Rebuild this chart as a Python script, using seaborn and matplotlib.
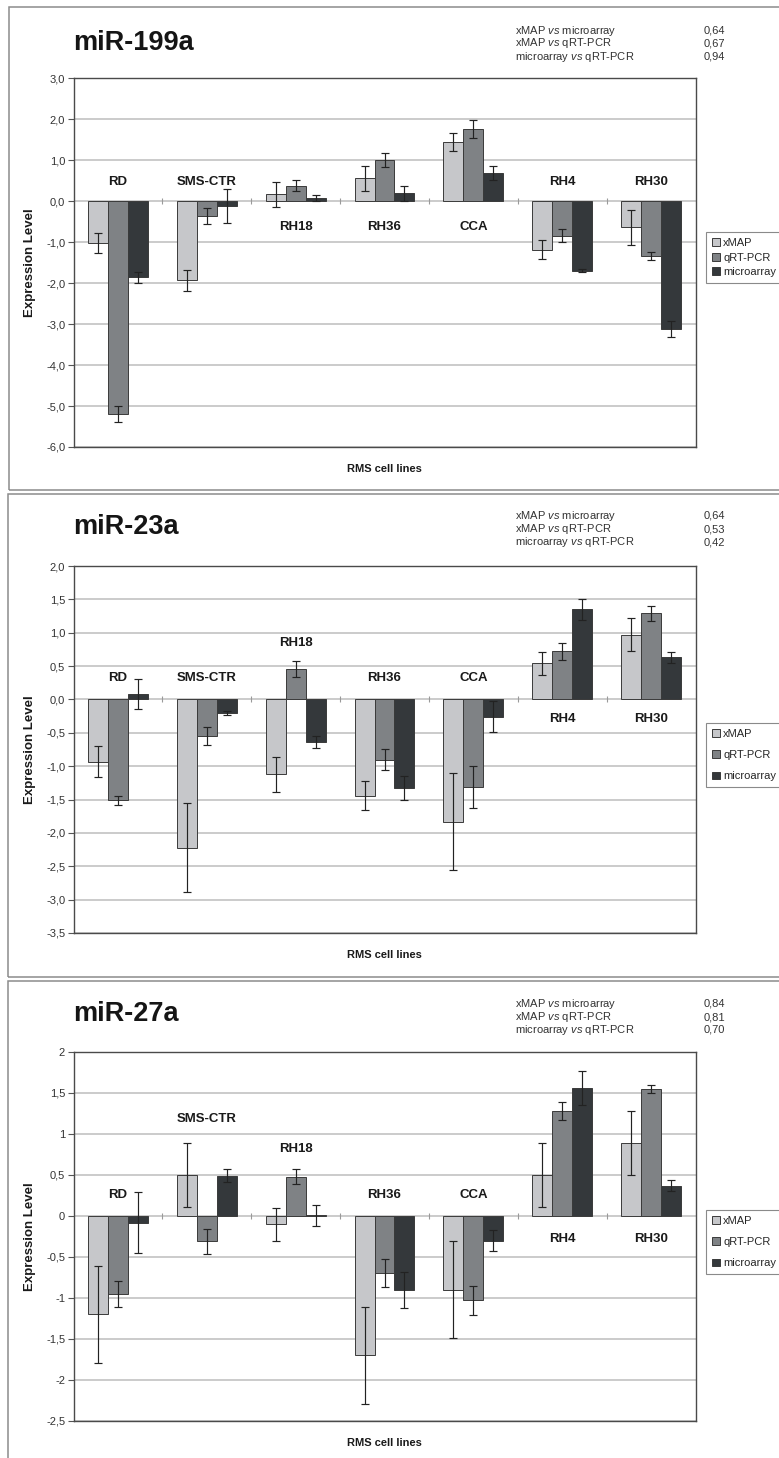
import numpy as np
import pandas as pd
import matplotlib
matplotlib.use("Agg")
import matplotlib.pyplot as plt
import seaborn as sns
from matplotlib.patches import Rectangle

# categories
cell_lines = ["RD", "SMS-CTR", "RH18", "RH36", "CCA", "RH4", "RH30"]
methods = ["xMAP", "qRT-PCR", "microarray"]

# miR-199a
mir199a_xmap = [-1.02, -1.93, 0.17, 0.56, 1.45, -1.18, -0.64]
mir199a_xmap_err = [0.24, 0.25, 0.30, 0.30, 0.22, 0.24, 0.42]
mir199a_qrt = [-5.20, -0.36, 0.38, 1.00, 1.76, -0.84, -1.33]
mir199a_qrt_err = [0.19, 0.19, 0.13, 0.17, 0.22, 0.15, 0.10]
mir199a_micro = [-1.86, -0.12, 0.07, 0.19, 0.69, -1.70, -3.12]
mir199a_micro_err = [0.13, 0.42, 0.07, 0.18, 0.17, 0.04, 0.19]
mir199a_corr = ["0,64", "0,67", "0,94"]

# miR-23a
mir23a_xmap = [-0.93, -2.22, -1.12, -1.44, -1.83, 0.54, 0.97]
mir23a_xmap_err = [0.23, 0.67, 0.26, 0.22, 0.73, 0.17, 0.25]
mir23a_qrt = [-1.51, -0.55, 0.46, -0.90, -1.31, 0.72, 1.29]
mir23a_qrt_err = [0.07, 0.14, 0.12, 0.16, 0.32, 0.13, 0.11]
mir23a_micro = [0.08, -0.20, -0.64, -1.33, -0.26, 1.35, 0.63]
mir23a_micro_err = [0.22, 0.03, 0.09, 0.18, 0.23, 0.16, 0.08]
mir23a_corr = ["0,64", "0,53", "0,42"]

# miR-27a
mir27a_xmap = [-1.20, 0.50, -0.10, -1.70, -0.90, 0.50, 0.89]
mir27a_xmap_err = [0.59, 0.39, 0.20, 0.59, 0.59, 0.39, 0.39]
mir27a_qrt = [-0.95, -0.31, 0.48, -0.70, -1.03, 1.28, 1.55]
mir27a_qrt_err = [0.16, 0.15, 0.09, 0.17, 0.18, 0.11, 0.05]
mir27a_micro = [-0.08, 0.49, 0.01, -0.90, -0.30, 1.56, 0.37]
mir27a_micro_err = [0.37, 0.08, 0.13, 0.22, 0.13, 0.21, 0.07]
mir27a_corr = ["0,84", "0,81", "0,70"]

corr_names = ["xMAP $\\mathit{vs}$ microarray",
              "xMAP $\\mathit{vs}$ qRT-PCR",
              "microarray $\\mathit{vs}$ qRT-PCR"]

W, H = 779, 1458
sns.set_theme(style="white")
plt.rcParams["font.family"] = ["Liberation Sans", "DejaVu Sans"]
plt.rcParams["mathtext.fontset"] = "custom"
plt.rcParams["mathtext.rm"] = "Liberation Sans"
plt.rcParams["mathtext.it"] = "Liberation Sans:italic"

colors = ["#c6c7ca", "#7f8285", "#34383b"]

fig = plt.figure(figsize=(W / 100, H / 100), dpi=100)


def fx(px):
    return px / W


def fy(py):
    return 1 - py / H


def fmt1(v):
    return f"{round(v, 2) + 0.0:.1f}".replace(".", ",")


def fmtg(v):
    return f"{round(v, 2) + 0.0:g}".replace(".", ",")


def draw_panel(name, vals, errs, corr, box, title_y, corr_y, ax_tb,
               legend_top, labelspacing, ylim, step, fmt, label_y):
    # cadre du panneau
    left, top, bottom = box
    fig.add_artist(Rectangle((fx(left), fy(bottom)), fx(W + 20) - fx(left),
                             (bottom - top) / H, transform=fig.transFigure,
                             fill=False, ec="#8c8c8c", lw=1.1))

    df = pd.DataFrame({
        "cell": cell_lines * 3,
        "method": np.repeat(methods, len(cell_lines)),
        "value": vals[0] + vals[1] + vals[2],
        "err": errs[0] + errs[1] + errs[2],
    })

    a_top, a_bot = ax_tb
    ax = fig.add_axes([fx(73.5), fy(a_bot), fx(695.5) - fx(73.5), (a_bot - a_top) / H])
    sns.barplot(data=df, x="cell", y="value", hue="method", order=cell_lines,
                hue_order=methods, palette=colors, saturation=1, width=0.675,
                errorbar=None, edgecolor="#3a3a3a", linewidth=0.7, ax=ax)

    # barres d'erreur
    for cont, m in zip(ax.containers, methods):
        sub = df[df["method"] == m]
        xs = [p.get_x() + p.get_width() / 2 for p in cont.patches]
        ax.errorbar(xs, sub["value"].values, yerr=sub["err"].values, fmt="none",
                    ecolor="#222222", elinewidth=0.85, capsize=2.8, capthick=0.85)

    yt = np.arange(ylim[0], ylim[1] + step / 2, step)
    ax.set_ylim(ylim)
    ax.set_yticks(yt)
    ax.set_yticklabels([fmt(v) for v in yt])
    ax.set_xticks([])
    ax.grid(axis="y", color="#bdbdbd", lw=1.1)
    ax.set_axisbelow(True)
    ax.tick_params(axis="y", left=True, length=4, width=0.8, color="#555555",
                   labelsize=8, labelcolor="#333333", pad=2)
    for s in ax.spines.values():
        s.set_color("#4a4a4a")
        s.set_linewidth(1.0)

    # petits traits entre les groupes sur la ligne 0
    bounds = np.arange(len(cell_lines) - 1) + 0.5
    ax.plot(bounds, np.zeros_like(bounds), ls="none", marker="|", ms=5,
            mew=0.8, color="#9a9a9a", zorder=1)
    ax.set_xlim(-0.5, len(cell_lines) - 0.5)

    for i, (c, yv) in enumerate(zip(cell_lines, label_y)):
        ax.text(i, yv, c, ha="center", va="center", fontsize=9.5,
                fontweight="bold", color="#1a1a1a")

    ax.set_xlabel("RMS cell lines", fontsize=8, fontweight="bold", color="#1a1a1a")
    ax.xaxis.set_label_coords(0.5, -0.045)
    ax.set_ylabel("Expression Level", fontsize=9.5, fontweight="bold", color="#1a1a1a")
    ax.yaxis.set_label_coords(-0.06, 0.5)

    sns.move_legend(ax, "upper left", bbox_to_anchor=(fx(706), fy(legend_top)),
                    bbox_transform=fig.transFigure, title=None, frameon=True,
                    fontsize=8, handlelength=0.7, handleheight=0.7,
                    handletextpad=0.3, labelspacing=labelspacing, borderpad=0.55,
                    borderaxespad=0, fancybox=False, edgecolor="#8a8a8a",
                    framealpha=1)
    ax.get_legend().get_frame().set_linewidth(0.8)

    fig.text(fx(73), fy(title_y), name, fontsize=19.5, fontweight="bold",
             ha="left", va="center", color="#151515")
    for j in range(3):
        fig.text(fx(515), fy(corr_y[j]), corr_names[j], fontsize=8,
                 ha="left", va="center", color="#333333")
        fig.text(fx(704), fy(corr_y[j]), corr[j], fontsize=8,
                 ha="left", va="center", color="#333333")


draw_panel("miR-199a",
           (mir199a_xmap, mir199a_qrt, mir199a_micro),
           (mir199a_xmap_err, mir199a_qrt_err, mir199a_micro_err),
           mir199a_corr, (9, 7, 490), 42.5, [30.5, 43.5, 56.5], (78.3, 447),
           232, 0.4, (-6, 3), 1.0, fmt1,
           [0.46, 0.46, -0.62, -0.62, -0.62, 0.46, 0.46])

draw_panel("miR-23a",
           (mir23a_xmap, mir23a_qrt, mir23a_micro),
           (mir23a_xmap_err, mir23a_qrt_err, mir23a_micro_err),
           mir23a_corr, (7.5, 494, 977), 527, [516, 529, 542], (566, 933),
           723, 1.0, (-3.5, 2), 0.5, fmt1,
           [0.32, 0.32, 0.84, 0.32, 0.32, -0.3, -0.3])

draw_panel("miR-27a",
           (mir27a_xmap, mir27a_qrt, mir27a_micro),
           (mir27a_xmap_err, mir27a_qrt_err, mir27a_micro_err),
           mir27a_corr, (8, 981, 1470), 1014, [1004, 1017, 1030], (1052, 1421),
           1210, 1.0, (-2.5, 2), 0.5, fmtg,
           [0.26, 1.18, 0.82, 0.26, 0.26, -0.28, -0.28])

fig.savefig("out.png", dpi=100)
